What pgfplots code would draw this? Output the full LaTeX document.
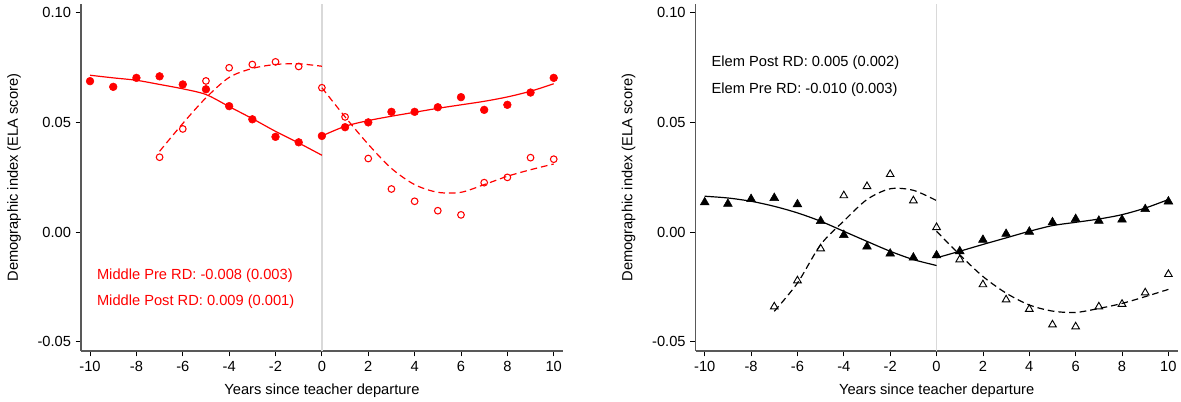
\documentclass[border=0pt]{standalone}
\usepackage{pgfplots}
\pgfplotsset{compat=1.18}
\usepackage{fontspec}
\setmainfont{Liberation Sans}
\definecolor{myred}{RGB}{255,0,0}
\begin{document}
\begin{tikzpicture}
\path[use as bounding box] (-60.75pt,-38.25pt) rectangle (825pt,263.25pt);
\pgfplotsset{
 panel/.style={
  scale only axis, width=361.5pt, height=260.25pt,
  xmin=-10.39, xmax=10.4, ymin=-0.0543, ymax=0.104,
  axis x line=bottom, axis y line=left,
  axis line style={-, draw=black!65, line width=0.9pt},
  tick align=outside, tick style={black, line width=0.6pt}, major tick length=4pt,
  xtick={-10,-8,...,10}, ytick={-0.05,0,0.05,0.1},
  yticklabel style={/pgf/number format/.cd, fixed, fixed zerofill, precision=2},
  /pgf/number format/assume math mode=true,
  font=\fontsize{11}{13.2}\selectfont,
  xlabel={Years since teacher departure},
  ylabel={Demographic index (ELA score)},
  xlabel style={at={(axis description cs:0.5,0)}, anchor=center, yshift=-29.5pt},
  ylabel style={at={(axis description cs:-0.139,0.5)}, anchor=center},
  clip=false,
 },
 fitline/.style={line width=0.9pt, smooth, tension=0.5},
 dashfit/.style={line width=0.9pt, smooth, tension=0.5, dash pattern=on 5pt off 3pt},
}
% ---------------- Left panel: Middle ----------------
\begin{axis}[panel, at={(0pt,0pt)}, anchor=south west]
\addplot[black!15, line width=1pt, forget plot] coordinates {(0,-0.0543) (0,0.104)};
% fitted lines
\addplot[myred, fitline] coordinates {(-10,0.0715) (-9,0.0703) (-8,0.0692) (-7,0.0673) (-6,0.0653) (-5,0.0627) (-4,0.0572) (-3,0.0517) (-2,0.0459) (-1,0.0406) (0,0.0350)};
\addplot[myred, fitline] coordinates {(0,0.0438) (1,0.0482) (2,0.0508) (3,0.0528) (4,0.0546) (5,0.0564) (6,0.0580) (7,0.0596) (8,0.0616) (9,0.0642) (10,0.0676)};
\addplot[myred, dashfit] coordinates {(-7,0.0368) (-6,0.0495) (-5,0.0612) (-4,0.0705) (-3,0.0746) (-2,0.0764) (-1,0.0767) (0,0.0756)};
\addplot[myred, dashfit] coordinates {(0,0.0658) (1,0.0525) (2,0.0400) (3,0.0290) (4,0.0216) (5,0.0181) (6,0.0181) (7,0.0216) (8,0.0254) (9,0.0284) (10,0.0310)};
% filled circles
\addplot[only marks, mark=*, mark size=2.9pt, mark options={fill=myred, draw=myred}] coordinates {
(-10,0.0688) (-9,0.0662) (-8,0.0703) (-7,0.0710) (-6,0.0673) (-5,0.0651) (-4,0.0574) (-3,0.0514) (-2,0.0434) (-1,0.0409) (0,0.0438)
(1,0.0478) (2,0.0500) (3,0.0548) (4,0.0548) (5,0.0569) (6,0.0615) (7,0.0557) (8,0.0580) (9,0.0636) (10,0.0703)};
% hollow circles
\addplot[only marks, mark=o, mark size=2.5pt, mark options={draw=myred, line width=0.8pt}] coordinates {
(-7,0.0341) (-6,0.0470) (-5,0.0689) (-4,0.0749) (-3,0.0764) (-2,0.0776) (-1,0.0755) (0,0.0658)
(1,0.0525) (2,0.0335) (3,0.0196) (4,0.0140) (5,0.0097) (6,0.0078) (7,0.0225) (8,0.0249) (9,0.0339) (10,0.0332)};
\node[anchor=west, text=myred, inner sep=0pt] at (axis cs:-9.71,-0.0200) {Middle Pre RD: -0.008 (0.003)};
\node[anchor=west, text=myred, inner sep=0pt] at (axis cs:-9.71,-0.0317) {Middle Post RD: 0.009 (0.001)};
\end{axis}
% ---------------- Right panel: Elem ----------------
\begin{axis}[panel, at={(461pt,0pt)}, anchor=south west]
\addplot[black!15, line width=1pt, forget plot] coordinates {(0,-0.0543) (0,0.104)};
\addplot[black, fitline] coordinates {(-10,0.0163) (-9,0.0155) (-8,0.0140) (-7,0.0117) (-6,0.0087) (-5,0.0049) (-4,0.0003) (-3,-0.0043) (-2,-0.0088) (-1,-0.0126) (0,-0.0153)};
\addplot[black, fitline] coordinates {(0,-0.0118) (1,-0.0088) (2,-0.0057) (3,-0.0027) (4,0.0003) (5,0.0029) (6,0.0044) (7,0.0059) (8,0.0079) (9,0.0109) (10,0.0148)};
\addplot[black, dashfit] coordinates {(-7,-0.0362) (-6,-0.0233) (-5,-0.0058) (-4,0.0050) (-3,0.0148) (-2,0.0197) (-1,0.0190) (0,0.0143)};
\addplot[black, dashfit] coordinates {(0,0.0003) (1,-0.0104) (2,-0.0203) (3,-0.0279) (4,-0.0333) (5,-0.0361) (6,-0.0367) (7,-0.0349) (8,-0.0326) (9,-0.0295) (10,-0.0262)};
\addplot[only marks, mark=triangle*, mark size=3.8pt, mark options={fill=black, draw=black}] coordinates {
(-10,0.0135) (-9,0.0128) (-8,0.0150) (-7,0.0155) (-6,0.0126) (-5,0.0050) (-4,-0.0014) (-3,-0.0067) (-2,-0.0099) (-1,-0.0117) (0,-0.0107)
(1,-0.0088) (2,-0.0036) (3,-0.0009) (4,0.0001) (5,0.0044) (6,0.0059) (7,0.0051) (8,0.0056) (9,0.0104) (10,0.0139)};
\addplot[only marks, mark=triangle, mark size=3.3pt, mark options={draw=black, line width=0.7pt}] coordinates {
(-7,-0.0341) (-6,-0.0222) (-5,-0.0076) (-4,0.0166) (-3,0.0208) (-2,0.0263) (-1,0.0143) (0,0.0021)
(1,-0.0126) (2,-0.0240) (3,-0.0309) (4,-0.0352) (5,-0.0423) (6,-0.0432) (7,-0.0341) (8,-0.0329) (9,-0.0277) (10,-0.0193)};
\node[anchor=west, text=black, inner sep=0pt] at (axis cs:-9.71,0.0772) {Elem Post RD: 0.005 (0.002)};
\node[anchor=west, text=black, inner sep=0pt] at (axis cs:-9.71,0.0650) {Elem Pre RD: -0.010 (0.003)};
\end{axis}
\end{tikzpicture}
\end{document}
